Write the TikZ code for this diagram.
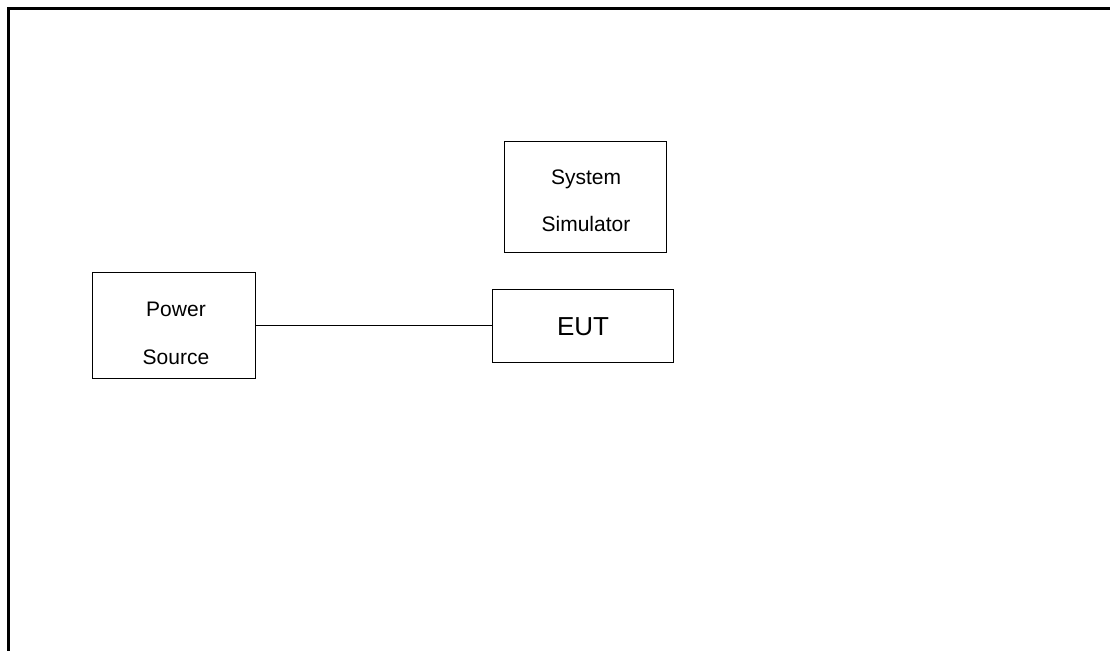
\documentclass[tikz,border=0pt]{standalone}
\usepackage{fontspec}
\setmainfont{Liberation Sans}
\begin{document}
\begin{tikzpicture}[x=1pt,y=-1pt,
  box/.style={draw,line width=1pt,inner sep=0pt},
  lbl/.style={anchor=base,inner sep=0pt,font=\fontsize{21}{25}\selectfont},
  big/.style={anchor=base,inner sep=0pt,font=\fontsize{26}{30}\selectfont}]
\useasboundingbox (0,0) rectangle (1110,651);
% frame (top and left edges)
\coordinate (ftr) at (1110,8.3);
\coordinate (ftl) at (8.3,8.3);
\coordinate (fbl) at (8.3,651);
\draw[line width=2.6pt] (ftr) -- (ftl) -- (fbl);
% boxes
\node[box,minimum width=163pt,minimum height=106pt] (ps) at (173.5,325) {};
\node[box,minimum width=162pt,minimum height=111pt] (sim) at (585,196.5) {};
\node[box,minimum width=181pt,minimum height=73pt] (eut) at (582.5,325.5) {};
% texts
\node[lbl] (t1) at (176,316.5) {Power};
\node[lbl] (t2) at (176,364.5) {Source};
\node[lbl] (t3) at (586,184.5) {System};
\node[lbl] (t4) at (586,231.5) {Simulator};
\node[big] (t5) at (583,335) {EUT};
% connector
\draw[line width=1pt] (ps.east) -- (ps.east -| eut.west);
\end{tikzpicture}
\end{document}
